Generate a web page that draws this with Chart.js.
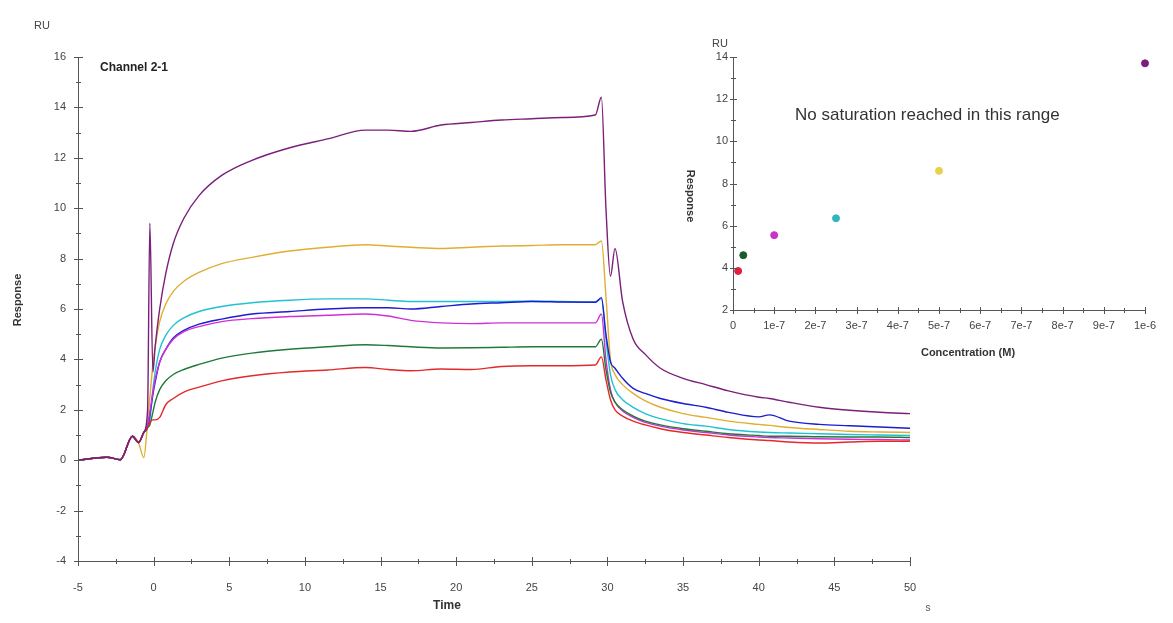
<html lang="en">
<head>
<meta charset="UTF-8">
<title>Channel 2-1</title>
<script src="https://cdn.jsdelivr.net/npm/chart.js@4.4.1/dist/chart.umd.min.js"></script>
<style>
body { margin: 0; background: #fff; }
#wrap { position: relative; width: 1173px; height: 623px; }
#wrap canvas { position: absolute; left: 0; top: 0; }
</style>
</head>
<body>
<div id="wrap">
    <canvas id="mycanvas" width="1173" height="623"></canvas>
    <canvas id="mycanvas2" width="1173" height="623"></canvas>
</div>
<script>
// sensorgram, time in s
var times = [-5, -3.1, -2.2, -1.4, -1.0, -0.65, -0.4, -0.25, -0.05, 0.1, 0.4, 0.8, 1.3, 2, 3, 4.5, 6.5, 9, 11.5, 14, 15.5, 17, 19, 21, 23, 25, 27, 29.2, 29.6, 29.9, 30.2, 30.5, 31, 31.7, 32.5, 33.5, 35, 36.5, 38, 40, 40.7, 42, 44, 46, 48, 50];
var purple  = [0, 0.12, 0.02, 0.95, 0.7, 1.1, 2.0, 9.4, 3.5, 4.5, 6.0, 7.4, 8.6, 9.6, 10.5, 11.3, 11.9, 12.4, 12.75, 13.1, 13.1, 13.05, 13.3, 13.4, 13.5, 13.55, 13.6, 13.7, 14.4, 10.0, 7.3, 8.4, 6.3, 4.8, 4.2, 3.65, 3.25, 3.0, 2.75, 2.5, 2.45, 2.3, 2.1, 1.98, 1.9, 1.85];
var yellow  = [0, 0.12, 0.02, 0.95, 0.7, 0.1, 1.5, 2.5, 3.8, 4.5, 5.5, 6.2, 6.7, 7.1, 7.45, 7.8, 8.05, 8.3, 8.45, 8.55, 8.5, 8.45, 8.4, 8.45, 8.5, 8.52, 8.55, 8.55, 8.7, 6.5, 4.0, 3.4, 3.0, 2.65, 2.35, 2.1, 1.85, 1.7, 1.55, 1.42, 1.38, 1.3, 1.22, 1.15, 1.12, 1.1];
var cyan    = [0, 0.12, 0.02, 0.95, 0.7, 1.1, 1.3, 1.6, 2.8, 3.5, 4.4, 4.95, 5.35, 5.65, 5.9, 6.1, 6.25, 6.35, 6.4, 6.4, 6.35, 6.3, 6.3, 6.3, 6.3, 6.32, 6.3, 6.28, 6.4, 4.8, 3.4, 2.8, 2.4, 2.1, 1.85, 1.65, 1.45, 1.35, 1.22, 1.12, 1.1, 1.08, 1.05, 1.02, 1.0, 0.98];
var blue    = [0, 0.12, 0.02, 0.95, 0.7, 1.1, 1.3, 1.8, 2.6, 3.1, 3.9, 4.4, 4.85, 5.15, 5.4, 5.6, 5.8, 5.9, 6.0, 6.05, 6.05, 6.0, 6.1, 6.2, 6.25, 6.3, 6.28, 6.27, 6.45, 5.0, 3.9, 3.65, 3.25, 2.85, 2.65, 2.45, 2.25, 2.1, 1.9, 1.72, 1.8, 1.55, 1.42, 1.37, 1.32, 1.27];
var magenta = [0, 0.12, 0.02, 0.95, 0.7, 1.1, 1.4, 1.9, 2.7, 3.2, 3.9, 4.4, 4.8, 5.1, 5.3, 5.5, 5.62, 5.7, 5.75, 5.8, 5.72, 5.55, 5.45, 5.42, 5.45, 5.45, 5.45, 5.45, 5.8, 4.0, 2.8, 2.3, 1.95, 1.7, 1.5, 1.35, 1.2, 1.1, 1.0, 0.92, 0.9, 0.88, 0.85, 0.83, 0.82, 0.8];
var green   = [0, 0.12, 0.02, 0.95, 0.7, 1.1, 1.3, 1.4, 1.9, 2.3, 2.8, 3.15, 3.4, 3.6, 3.8, 4.05, 4.25, 4.4, 4.5, 4.58, 4.55, 4.5, 4.45, 4.46, 4.48, 4.5, 4.5, 4.5, 4.8, 3.6, 2.7, 2.3, 2.0, 1.75, 1.55, 1.4, 1.25, 1.15, 1.05, 0.98, 0.95, 0.95, 0.93, 0.92, 0.92, 0.9];
var red     = [0, 0.12, 0.02, 0.95, 0.7, 1.1, 1.3, 1.5, 1.6, 1.6, 1.7, 2.2, 2.45, 2.7, 2.9, 3.15, 3.35, 3.5, 3.58, 3.68, 3.6, 3.55, 3.62, 3.6, 3.72, 3.75, 3.75, 3.78, 4.1, 3.2, 2.4, 2.0, 1.75, 1.55, 1.4, 1.25, 1.1, 1.0, 0.9, 0.8, 0.78, 0.72, 0.68, 0.72, 0.75, 0.75];

// steady state plot
var conc = [1.25e-8, 2.5e-8, 1e-7, 2.5e-7, 5e-7, 1e-6];
var resp = [3.85, 4.6, 5.55, 6.35, 8.6, 13.7];
var concColors = ['#e0203c', '#1d5a2a', '#c832c8', '#34b4bc', '#e6d24a', '#7a1f7a'];

var timeTicks = [-5, 0, 5, 10, 15, 20, 25, 30, 35, 40, 45, 50];
var respTicks = [-4, -2, 0, 2, 4, 6, 8, 10, 12, 14, 16];

function pts(ys) {
    var out = [];
    for (var i = 0; i < times.length; i++) out.push({x: times[i], y: ys[i]});
    return out;
}
function line(ys, col) {
    return {data: pts(ys), borderColor: col, borderWidth: 1.4, pointRadius: 0, fill: false, cubicInterpolationMode: 'monotone'};
}

var tickFont = {family: 'Liberation Sans, Arial, sans-serif', size: 11};

// cross shaped tick marks like the instrument software
var crossTicks = {
    id: 'crossTicks',
    afterDraw: function (chart, args, o) {
        var ctx = chart.ctx, xs = chart.scales.x, ys = chart.scales.y;
        var a = chart.chartArea;
        ctx.save();
        ctx.strokeStyle = '#555';
        ctx.lineWidth = 1;
        ctx.beginPath();
        ctx.moveTo(a.left + 0.5, a.top); ctx.lineTo(a.left + 0.5, a.bottom + 0.5);
        ctx.lineTo(a.right, a.bottom + 0.5);
        var v, p, big;
        for (v = xs.min, i = 0; v <= xs.max + o.xStep * 0.01; v += o.xStep / 2, i++) {
            p = Math.round(xs.getPixelForValue(v)) + 0.5;
            big = i % 2 == 0 ? o.major : o.minor;
            ctx.moveTo(p, a.bottom - big); ctx.lineTo(p, a.bottom + big + 1);
        }
        for (v = ys.min, i = 0; v <= ys.max + o.yStep * 0.01; v += o.yStep / 2, i++) {
            p = Math.round(ys.getPixelForValue(v)) + 0.5;
            big = i % 2 == 0 ? o.major : o.minor;
            ctx.moveTo(a.left - big, p); ctx.lineTo(a.left + big + 1, p);
        }
        ctx.stroke();
        ctx.restore();
    }
};

var texts = {
    id: 'texts',
    afterDraw: function (chart, args, o) {
        var ctx = chart.ctx;
        ctx.save();
        o.items.forEach(function (t) {
            ctx.save();
            ctx.fillStyle = t.color || '#333';
            ctx.font = (t.bold ? 'bold ' : '') + t.size + 'px Liberation Sans, Arial, sans-serif';
            ctx.textAlign = t.align || 'center';
            ctx.textBaseline = 'middle';
            ctx.translate(t.x, t.y);
            if (t.rot) ctx.rotate(t.rot);
            ctx.fillText(t.text, 0, 0);
            ctx.restore();
        });
        ctx.restore();
    }
};

var ctx = document.getElementById('mycanvas');
var mainGraph = new Chart(ctx, {
    type: 'line',
    data: {
        datasets: [
            line(purple, '#7a1f7a'),
            line(red, '#e22a2a'),
            line(green, '#1f7a3a'),
            line(magenta, '#d22ed8'),
            line(blue, '#1c1cd2'),
            line(cyan, '#1ec2d2'),
            line(yellow, '#e0ae32')
        ]
    },
    options: {
        responsive: false,
        animation: false,
        layout: {padding: {top: 57, right: 263, left: 0, bottom: 0}},
        plugins: {
            legend: {display: false},
            tooltip: {enabled: false},
            crossTicks: {xStep: 5, yStep: 2, major: 4, minor: 2},
            texts: {items: [
                {text: 'RU', x: 42, y: 26, size: 11, color: '#444'},
                {text: 'Response', x: 18, y: 300, size: 11, bold: true, rot: -Math.PI / 2},
                {text: 'Time', x: 447, y: 606, size: 12, bold: true},
                {text: 's', x: 928, y: 608, size: 10, color: '#555'},
                {text: 'Channel 2-1', x: 100, y: 68, size: 12, bold: true, align: 'left', color: '#222'}
            ]}
        },
        scales: {
            x: {
                type: 'linear', min: -5, max: 50,
                afterFit: function (s) { s.height = 62; },
                afterBuildTicks: function (s) { s.ticks = timeTicks.map(function (v) { return {value: v}; }); },
                grid: {display: false, drawTicks: false},
                border: {display: false},
                ticks: {padding: 20, color: '#444', font: tickFont, maxRotation: 0, autoSkip: false}
            },
            y: {
                type: 'linear', min: -4, max: 16,
                afterFit: function (s) { s.width = 78; },
                afterBuildTicks: function (s) { s.ticks = respTicks.map(function (v) { return {value: v}; }); },
                grid: {display: false, drawTicks: false},
                border: {display: false},
                ticks: {padding: 12, color: '#444', font: tickFont}
            }
        }
    },
    plugins: [crossTicks, texts]
});

var ctx2 = document.getElementById('mycanvas2');
var insetGraph = new Chart(ctx2, {
    type: 'scatter',
    data: {
        datasets: [{
            data: conc.map(function (c, i) { return {x: c, y: resp[i]}; }),
            backgroundColor: concColors,
            borderColor: concColors,
            pointRadius: 3.5,
            clip: false
        }]
    },
    options: {
        responsive: false,
        animation: false,
        layout: {padding: {top: 57, right: 28, left: 0, bottom: 0}},
        plugins: {
            legend: {display: false},
            tooltip: {enabled: false},
            crossTicks: {xStep: 1e-7, yStep: 2, major: 3, minor: 2},
            texts: {items: [
                {text: 'RU', x: 720, y: 44, size: 11, color: '#444'},
                {text: 'Response', x: 690, y: 196, size: 11, bold: true, rot: Math.PI / 2},
                {text: 'Concentration (M)', x: 968, y: 353, size: 11, bold: true},
                {text: 'No saturation reached in this range', x: 795, y: 115, size: 17, align: 'left', color: '#333'}
            ]}
        },
        scales: {
            x: {
                type: 'linear', min: 0, max: 1e-6,
                afterFit: function (s) { s.height = 313; },
                grid: {display: false, drawTicks: false},
                border: {display: false},
                ticks: {
                    stepSize: 1e-7, padding: 9, color: '#444', font: tickFont, maxRotation: 0, autoSkip: false,
                    callback: function (v) {
                        var n = Math.round(v / 1e-7);
                        if (n == 0) return '0';
                        if (n == 10) return '1e-6';
                        return n + 'e-7';
                    }
                }
            },
            y: {
                type: 'linear', min: 2, max: 14,
                afterFit: function (s) { s.width = 733; },
                grid: {display: false, drawTicks: false},
                border: {display: false},
                ticks: {stepSize: 2, padding: 5, color: '#444', font: tickFont}
            }
        }
    },
    plugins: [crossTicks, texts]
});
</script>
</body>
</html>
